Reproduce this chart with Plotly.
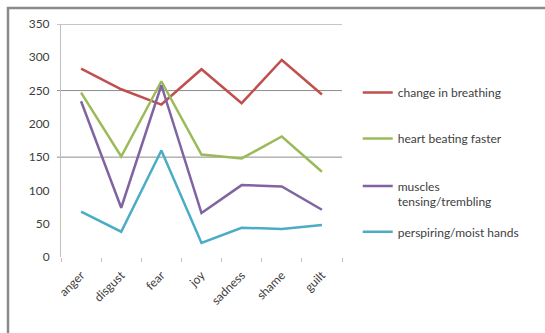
import plotly.graph_objects as go

categories = ["anger", "disgust", "fear", "joy", "sadness", "shame", "guilt"]
change_in_breathing = [283, 252, 229, 282, 231, 296, 244]
heart_beating_faster = [247, 151, 264, 154, 148, 181, 128]
muscles_tensing = [234, 74, 258, 66, 108, 106, 71]
perspiring_hands = [68, 38, 160, 21, 44, 42, 48]
y_ticks = [0, 50, 100, 150, 200, 250, 300, 350]
grid_values = [150, 250, 350]

series = [
    ("change in breathing", change_in_breathing, "#C0504D"),
    ("heart beating faster", heart_beating_faster, "#9BBB59"),
    ("muscles<br>tensing/trembling", muscles_tensing, "#8064A2"),
    ("perspiring/moist hands", perspiring_hands, "#4BACC6"),
]
legend_names = ["legend", "legend2", "legend3", "legend4"]
legend_y = [0.705, 0.508, 0.27, 0.108]

FONT = "Lato"
TXT = "#404040"

fig = go.Figure()
for (name, vals, col), lg in zip(series, legend_names):
    fig.add_trace(go.Scatter(x=categories, y=vals, name=name, mode="lines",
                             line=dict(color=col, width=2.5), legend=lg))

W, H = 545, 333
L, R, T, B = 61, 203, 24, 76
pw, ph = W - L - R, H - T - B

for g in grid_values:
    fig.add_shape(type="line", xref="paper", yref="y", x0=-4 / pw, x1=1, y0=g, y1=g,
                  line=dict(color="#8c8c8c", width=1), layer="below")

# outer chart frame
fig.add_shape(type="rect", xref="paper", yref="paper",
              x0=(8 - L) / pw, x1=(W + 20 - L) / pw,
              y0=-(H + 20 - (H - B)) / ph, y1=(H - B - 8) / ph,
              line=dict(color="#8a8a8a", width=2.5))

layout_legends = {}
for lg, y in zip(legend_names, legend_y):
    layout_legends[lg] = dict(x=1.056, y=y, xanchor="left", yanchor="middle",
                              valign="top", bgcolor="rgba(0,0,0,0)",
                              font=dict(family=FONT, size=12, color=TXT))

fig.update_layout(
    width=W, height=H,
    margin=dict(l=L, r=R, t=T, b=B, autoexpand=False),
    paper_bgcolor="white", plot_bgcolor="white",
    font=dict(family=FONT, size=11, color=TXT),
    showlegend=True,
    **layout_legends,
)
fig.update_xaxes(type="category", range=[-0.5, 6.5], showgrid=False, showline=False,
                 zeroline=False, tickson="boundaries", ticks="outside", ticklen=4,
                 tickcolor="#bfbfbf", tickangle=-45, automargin=False,
                 ticklabelstandoff=8,
                 tickfont=dict(family=FONT, size=12, color=TXT))
fig.update_yaxes(range=[0, 350], tickvals=y_ticks, showgrid=False, zeroline=False,
                 showline=True, linecolor="#bfbfbf", linewidth=1, automargin=False,
                 ticks="", ticklabelstandoff=8,
                 tickfont=dict(family=FONT, size=12, color=TXT))

fig.write_html("out.html", config={"displayModeBar": False},
               post_script="document.body.style.margin='0';document.body.style.overflow='hidden';")
